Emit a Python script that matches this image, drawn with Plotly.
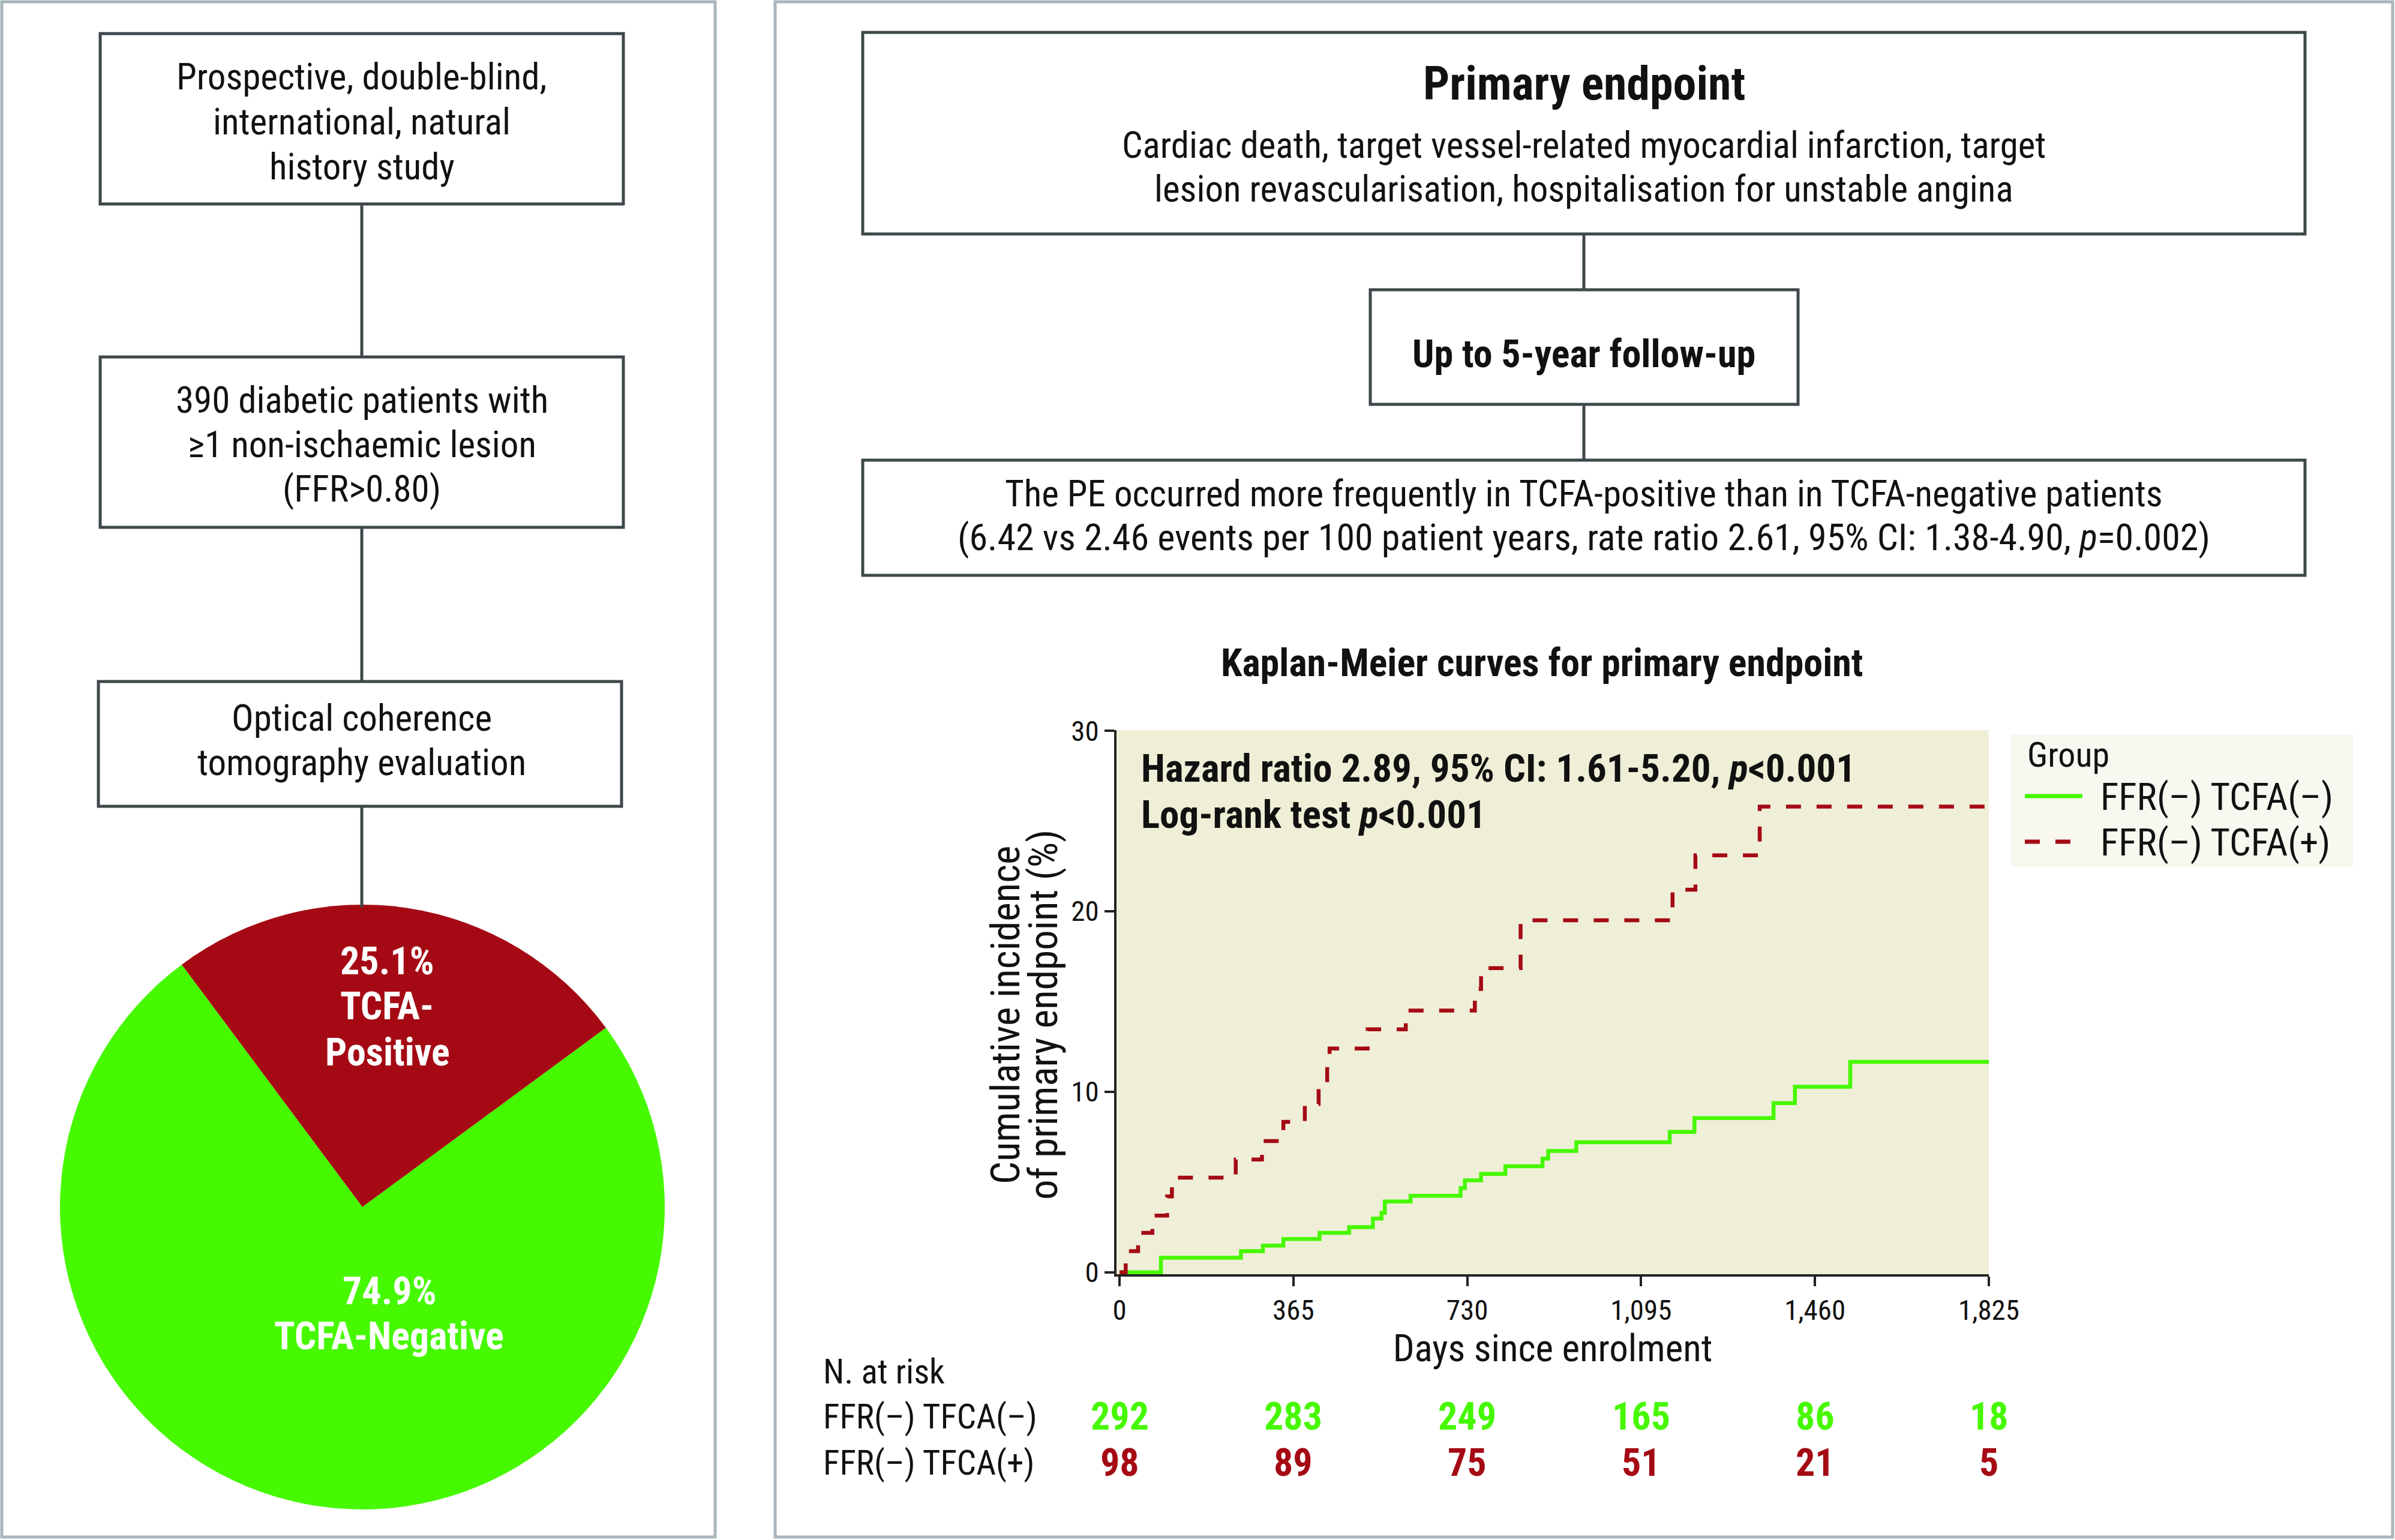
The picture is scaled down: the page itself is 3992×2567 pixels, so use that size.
import plotly.graph_objects as go

W, H = 3992, 2567

# ---------------- data ----------------
pie_labels = ["TCFA-Positive", "TCFA-Negative"]
pie_values = [25.1, 74.9]

neg_days = [0, 87, 255, 301, 344, 420, 482, 532, 550, 557, 611, 716, 725, 759, 810, 888, 900,
            959, 1155, 1207, 1373, 1418, 1534, 1825]
neg_inc = [0, 0.8, 1.17, 1.48, 1.84, 2.18, 2.5, 2.97, 3.29, 3.92, 4.24, 4.66, 5.09, 5.45, 5.87,
           6.3, 6.72, 7.2, 7.78, 8.54, 9.37, 10.28, 11.66, 11.66]

pos_days = [0, 13, 39, 69, 100, 110, 244, 299, 344, 389, 418, 436, 441, 521, 601, 746, 759, 842,
            1161, 1209, 1344, 1825]
pos_inc = [0, 1.17, 2.18, 3.14, 4.2, 5.24, 6.25, 7.27, 8.33, 9.33, 10.4, 11.4, 12.4, 13.46, 14.5,
           15.7, 16.85, 19.5, 21.2, 23.1, 25.8, 25.8]

x_tick_vals = [0, 365, 730, 1095, 1460, 1825]
x_tick_text = ["0", "365", "730", "1,095", "1,460", "1,825"]
y_tick_vals = [0, 10, 20, 30]

risk_neg = [292, 283, 249, 165, 86, 18]
risk_pos = [98, 89, 75, 51, 21, 5]

series_names = ["FFR(\u2013) TCFA(\u2013)", "FFR(\u2013) TCFA(+)"]
risk_labels = ["FFR(\u2013) TFCA(\u2013)", "FFR(\u2013) TFCA(+)"]

# ---------------- styles ----------------
GREEN = "#46F900"
RED = "#A50A14"
DARK = "#111111"
BOX = "#3E484B"
PANEL = "#A9B6BB"
NARROW = "Liberation Sans Narrow, Arial Narrow, Roboto Condensed, DejaVu Sans Condensed, sans-serif"
RED_DASH = "25px,26px"


def fx(x):
    return x / W


def fy(y):
    return 1 - y / H


fig = go.Figure()

# pie
fig.add_trace(go.Pie(
    labels=pie_labels, values=pie_values, sort=False, direction="clockwise",
    rotation=-36.7, marker=dict(colors=[RED, GREEN], line=dict(width=0)),
    textinfo="none", hoverinfo="label+percent", showlegend=False,
    domain=dict(x=[fx(98), fx(1110)], y=[fy(2516), fy(1508)]),
))

# KM curves
fig.add_trace(go.Scatter(
    x=neg_days, y=neg_inc, mode="lines", name=series_names[0], showlegend=False,
    line=dict(shape="hv", color=GREEN, width=6.5),
))
fig.add_trace(go.Scatter(
    x=pos_days, y=pos_inc, mode="lines", name=series_names[1], showlegend=False,
    line=dict(shape="hv", color=RED, width=6.5, dash=RED_DASH),
))

shapes = []


def rect(x0, y0, x1, y1, color, width, fill="rgba(0,0,0,0)", layer="above"):
    shapes.append(dict(type="rect", xref="paper", yref="paper", x0=fx(x0), x1=fx(x1),
                       y0=fy(y0), y1=fy(y1), line=dict(color=color, width=width),
                       fillcolor=fill, layer=layer))


def hline(x0, x1, y, color, width, dash="solid"):
    shapes.append(dict(type="line", xref="paper", yref="paper", x0=fx(x0), x1=fx(x1),
                       y0=fy(y), y1=fy(y), line=dict(color=color, width=width, dash=dash)))


def vline(x, y0, y1, color=BOX, width=5):
    shapes.append(dict(type="line", xref="paper", yref="paper", x0=fx(x), x1=fx(x),
                       y0=fy(y0), y1=fy(y1), line=dict(color=color, width=width)))


# panels
rect(3, 3, 1192, 2562, PANEL, 5)
rect(1292, 3, 3988, 2562, PANEL, 5)
# left flow boxes
rect(167, 56, 1039, 340, BOX, 5)
rect(167, 595, 1039, 879, BOX, 5)
rect(164, 1136, 1036, 1344, BOX, 5)
vline(603, 340, 595)
vline(603, 879, 1136)
vline(603, 1344, 1512)
# right flow boxes
rect(1438, 54, 3842, 390, BOX, 5)
rect(2284, 483, 2997, 674, BOX, 5)
rect(1438, 767, 3842, 959, BOX, 5)
vline(2640, 390, 483)
vline(2640, 674, 767)

# legend box (drawn)
rect(3351, 1224, 3922, 1445, "rgba(0,0,0,0)", 0, fill="#F8F7F0", layer="below")
hline(3375, 3471, 1327, GREEN, 7)
hline(3375, 3451, 1403, RED, 7, dash=RED_DASH)

annotations = []


def text(x, y, s, size=61, color=DARK, xanchor="center", angle=0, family=NARROW):
    annotations.append(dict(x=fx(x), y=fy(y), xref="paper", yref="paper", text=s,
                            showarrow=False, xanchor=xanchor, yanchor="middle",
                            textangle=angle, font=dict(family=family, size=size, color=color)))


# left panel texts
text(603, 128, "Prospective, double-blind,")
text(603, 203, "international, natural")
text(603, 278, "history study")
text(603, 667, "390 diabetic patients with")
text(603, 741, "\u22651 non-ischaemic lesion")
text(603, 815, "(FFR&gt;0.80)")
text(603, 1197, "Optical coherence")
text(603, 1271, "tomography evaluation")

# pie labels
text(645, 1602, "<b>%.1f%%</b>" % pie_values[0], size=64, color="white")
text(645, 1678, "<b>TCFA-</b>", size=64, color="white")
text(646, 1754, "<b>Positive</b>", size=64, color="white")
text(649, 2152, "<b>%.1f%%</b>" % pie_values[1], size=64, color="white")
text(648, 2227, "<b>TCFA-Negative</b>", size=64, color="white")

# right panel texts
text(2640, 140, "<b>Primary endpoint</b>", size=78)
text(2640, 242, "Cardiac death, target vessel-related myocardial infarction, target")
text(2640, 315, "lesion revascularisation, hospitalisation for unstable angina")
text(2640, 590, "<b>Up to 5-year follow-up</b>", size=64)
text(2640, 823, "The PE occurred more frequently in TCFA-positive than in TCFA-negative patients")
text(2640, 896, "(6.42 vs 2.46 events per 100 patient years, rate ratio 2.61, 95% CI: 1.38-4.90, <i>p</i>=0.002)",
     size=62)
text(2570, 1105, "<b>Kaplan-Meier curves for primary endpoint</b>", size=64)

# KM statistics
text(1900, 1281, "<b>Hazard ratio 2.89, 95% CI: 1.61-5.20, <i>p</i>&lt;0.001</b>", size=65, xanchor="left")
text(1900, 1358, "<b>Log-rank test <i>p</i>&lt;0.001</b>", size=65, xanchor="left")

# y-axis title (two rotated lines)
text(1676, 1692, "Cumulative incidence", size=67, angle=-90)
text(1739, 1692, "of primary endpoint (%)", size=67, angle=-90)

# legend texts
text(3377, 1258, "Group", size=58, xanchor="left")
text(3499, 1328, series_names[0], size=63, xanchor="left")
text(3499, 1404, series_names[1], size=63, xanchor="left")

# risk table
text(1370, 2286, "N. at risk", size=57, xanchor="left")
text(1370, 2361, risk_labels[0], size=57, xanchor="left")
text(1370, 2438, risk_labels[1], size=57, xanchor="left")
for d, n in zip(x_tick_vals, risk_neg):
    annotations.append(dict(x=d, y=fy(2361), xref="x", yref="paper", text="<b>%d</b>" % n,
                            showarrow=False, xanchor="center", yanchor="middle",
                            font=dict(family=NARROW, size=64, color=GREEN)))
for d, n in zip(x_tick_vals, risk_pos):
    annotations.append(dict(x=d, y=fy(2438), xref="x", yref="paper", text="<b>%d</b>" % n,
                            showarrow=False, xanchor="center", yanchor="middle",
                            font=dict(family=NARROW, size=64, color=RED)))

fig.update_layout(
    width=W, height=H, margin=dict(l=0, r=0, t=0, b=0, autoexpand=False),
    paper_bgcolor="white", plot_bgcolor="#EFEFD8",
    font=dict(family=NARROW, color=DARK),
    shapes=shapes, annotations=annotations, showlegend=False,
    xaxis=dict(domain=[fx(1861), fx(3315)], range=[-6.3, 1825], anchor="y",
               tickvals=x_tick_vals, ticktext=x_tick_text, ticks="outside", ticklen=16,
               tickwidth=4, tickcolor="#222", showline=True, linewidth=4, linecolor="#222",
               showgrid=False, zeroline=False, tickfont=dict(size=47, color=DARK),
               title=dict(text="Days since enrolment", font=dict(size=63, color=DARK), standoff=2)),
    yaxis=dict(domain=[fy(2124), fy(1217)], range=[-0.11, 30.04], anchor="x",
               tickvals=y_tick_vals, ticks="outside", ticklen=16, tickwidth=4, tickcolor="#222",
               showline=True, linewidth=4, linecolor="#222", showgrid=False, zeroline=False,
               tickfont=dict(size=47, color=DARK)),
)

fig.write_html("out.html", config={"displayModeBar": False},
               post_script="document.body.style.margin='0px';document.body.style.overflow='hidden';")
